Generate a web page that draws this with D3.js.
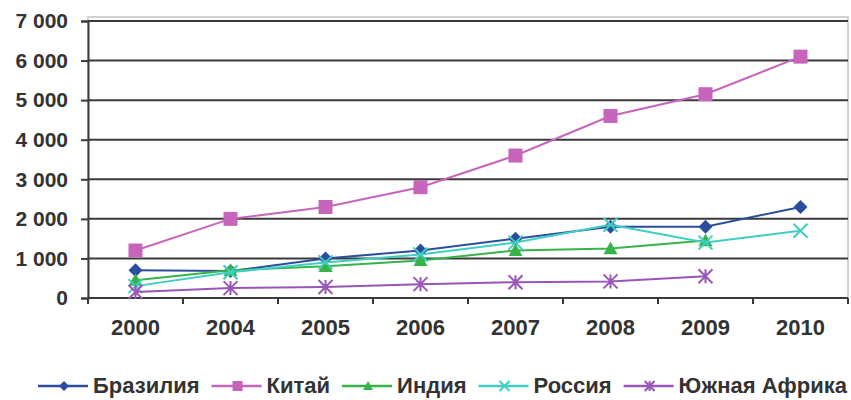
<!DOCTYPE html>
<html>
<head>
<meta charset="utf-8">
<script src="https://cdn.jsdelivr.net/npm/d3@7"></script>
<style>
    html, body { margin: 0; padding: 0; background: #fff; }
    svg { display: block; }
    svg text { font-family: "Liberation Sans", Arial, sans-serif; font-weight: bold; fill: #333; }
</style>
</head>
<body>
<div id="chart"></div>
<script>
// Data
var years = ['2000', '2004', '2005', '2006', '2007', '2008', '2009', '2010'];
var brazil = [700, 680, 1000, 1200, 1500, 1800, 1800, 2300];
var china = [1200, 2000, 2300, 2800, 3600, 4600, 5150, 6100];
var india = [450, 700, 800, 950, 1200, 1250, 1450, null];
var russia = [300, 650, 900, 1100, 1400, 1850, 1400, 1700];
var southAfrica = [150, 250, 280, 350, 400, 420, 550, null];
var yTicks = [0, 1000, 2000, 3000, 4000, 5000, 6000, 7000];

var series = [
    {name: 'Бразилия', values: brazil, color: '#2b4d9e', marker: 'diamond'},
    {name: 'Китай', values: china, color: '#c764bb', marker: 'square'},
    {name: 'Индия', values: india, color: '#37b34a', marker: 'triangle'},
    {name: 'Россия', values: russia, color: '#3fcfc2', marker: 'x'},
    {name: 'Южная Африка', values: southAfrica, color: '#9a55b8', marker: 'star'}
];

var width = 851,
    height = 400,
    margin = {top: 21, right: 3, bottom: 102, left: 88};

var innerWidth = width - margin.left - margin.right,
    innerHeight = height - margin.top - margin.bottom;

var axisColor = '#3a3a3a';

var svg = d3.select('#chart').append('svg')
    .attr('width', width)
    .attr('height', height);

var chart = svg.append('g')
    .attr('transform', 'translate(' + margin.left + ',' + margin.top + ')');

var x = d3.scaleBand().domain(years).range([0, innerWidth]);
var y = d3.scaleLinear().domain([0, 7000]).range([innerHeight, 0]);

// Plot area border
chart.append('rect')
    .attr('x', 0)
    .attr('y', -4)
    .attr('width', innerWidth)
    .attr('height', innerHeight + 4)
    .attr('fill', 'none')
    .attr('stroke', '#c4c4c4')
    .attr('stroke-width', 1.5);

// Gridlines
chart.append('g').selectAll('line')
    .data(yTicks.filter(function(d) { return d > 0; }))
    .enter().append('line')
    .attr('x1', 0)
    .attr('x2', innerWidth)
    .attr('y1', function(d) { return y(d); })
    .attr('y2', function(d) { return y(d); })
    .attr('stroke', axisColor)
    .attr('stroke-width', 2);

// Y axis
var yAxis = chart.append('g')
    .attr('font-size', 21)
    .call(d3.axisLeft(y).tickValues(yTicks).tickSize(7).tickPadding(13)
        .tickFormat(function(d) { return d3.format(',')(d).replace(',', ' '); }));
yAxis.attr('font-size', 21).attr('font-family', null);
yAxis.select('.domain').attr('stroke', axisColor).attr('stroke-width', 2);
yAxis.selectAll('.tick line').attr('stroke', axisColor).attr('stroke-width', 2);

// X axis with ticks between categories
var xAxis = chart.append('g')
    .attr('transform', 'translate(0,' + innerHeight + ')')
    .attr('font-size', 22);
xAxis.append('line')
    .attr('x1', 0).attr('x2', innerWidth)
    .attr('stroke', axisColor).attr('stroke-width', 2);
xAxis.selectAll('line.tick')
    .data(d3.range(years.length + 1))
    .enter().append('line')
    .attr('class', 'tick')
    .attr('x1', function(i) { return i * x.step(); })
    .attr('x2', function(i) { return i * x.step(); })
    .attr('y1', 0).attr('y2', 6)
    .attr('stroke', axisColor).attr('stroke-width', 2);
xAxis.selectAll('text')
    .data(years)
    .enter().append('text')
    .attr('x', function(d) { return x(d) + x.bandwidth() / 2; })
    .attr('y', 37)
    .attr('text-anchor', 'middle')
    .text(function(d) { return d; });

function drawMarker(g, type, color, s) {
    if (type === 'diamond') {
        g.append('path').attr('d', 'M0,' + (-s) + 'L' + s + ',0L0,' + s + 'L' + (-s) + ',0Z').attr('fill', color);
    } else if (type === 'square') {
        g.append('rect').attr('x', -s).attr('y', -s).attr('width', 2 * s).attr('height', 2 * s).attr('fill', color);
    } else if (type === 'triangle') {
        g.append('path').attr('d', 'M0,' + (-s) + 'L' + s + ',' + (s * 0.8) + 'L' + (-s) + ',' + (s * 0.8) + 'Z').attr('fill', color);
    } else if (type === 'x') {
        g.append('path').attr('d', 'M' + (-s) + ',' + (-s) + 'L' + s + ',' + s + 'M' + (-s) + ',' + s + 'L' + s + ',' + (-s))
            .attr('stroke', color).attr('stroke-width', 2).attr('fill', 'none');
    } else if (type === 'star') {
        g.append('path').attr('d', 'M' + (-s) + ',' + (-s) + 'L' + s + ',' + s + 'M' + (-s) + ',' + s + 'L' + s + ',' + (-s) + 'M0,' + (-s) + 'L0,' + s)
            .attr('stroke', color).attr('stroke-width', 2).attr('fill', 'none');
    }
}

var line = d3.line()
    .defined(function(d) { return d.value !== null; })
    .x(function(d) { return x(d.year) + x.bandwidth() / 2; })
    .y(function(d) { return y(d.value); });

series.forEach(function(s) {
    var points = years.map(function(yr, i) { return {year: yr, value: s.values[i]}; });
    chart.append('path')
        .datum(points)
        .attr('fill', 'none')
        .attr('stroke', s.color)
        .attr('stroke-width', 2)
        .attr('d', line);
    points.filter(function(p) { return p.value !== null; }).forEach(function(p) {
        var g = chart.append('g')
            .attr('transform', 'translate(' + (x(p.year) + x.bandwidth() / 2) + ',' + y(p.value) + ')');
        drawMarker(g, s.marker, s.color, 7);
    });
});

// Legend, items laid out one after another
var legend = svg.append('g').attr('transform', 'translate(38,386)').attr('font-size', 22);
var cursor = 0;
series.forEach(function(s) {
    var g = legend.append('g').attr('transform', 'translate(' + cursor + ',0)');
    g.append('line').attr('x1', 0).attr('x2', 50).attr('y1', 0).attr('y2', 0)
        .attr('stroke', s.color).attr('stroke-width', 2.5);
    var m = g.append('g').attr('transform', 'translate(26,0)');
    drawMarker(m, s.marker, s.color, 5);
    var t = g.append('text').attr('x', 55).attr('y', 7)
        .text(s.name);
    cursor += 55 + t.node().getComputedTextLength() + 12;
});
</script>
</body>
</html>
